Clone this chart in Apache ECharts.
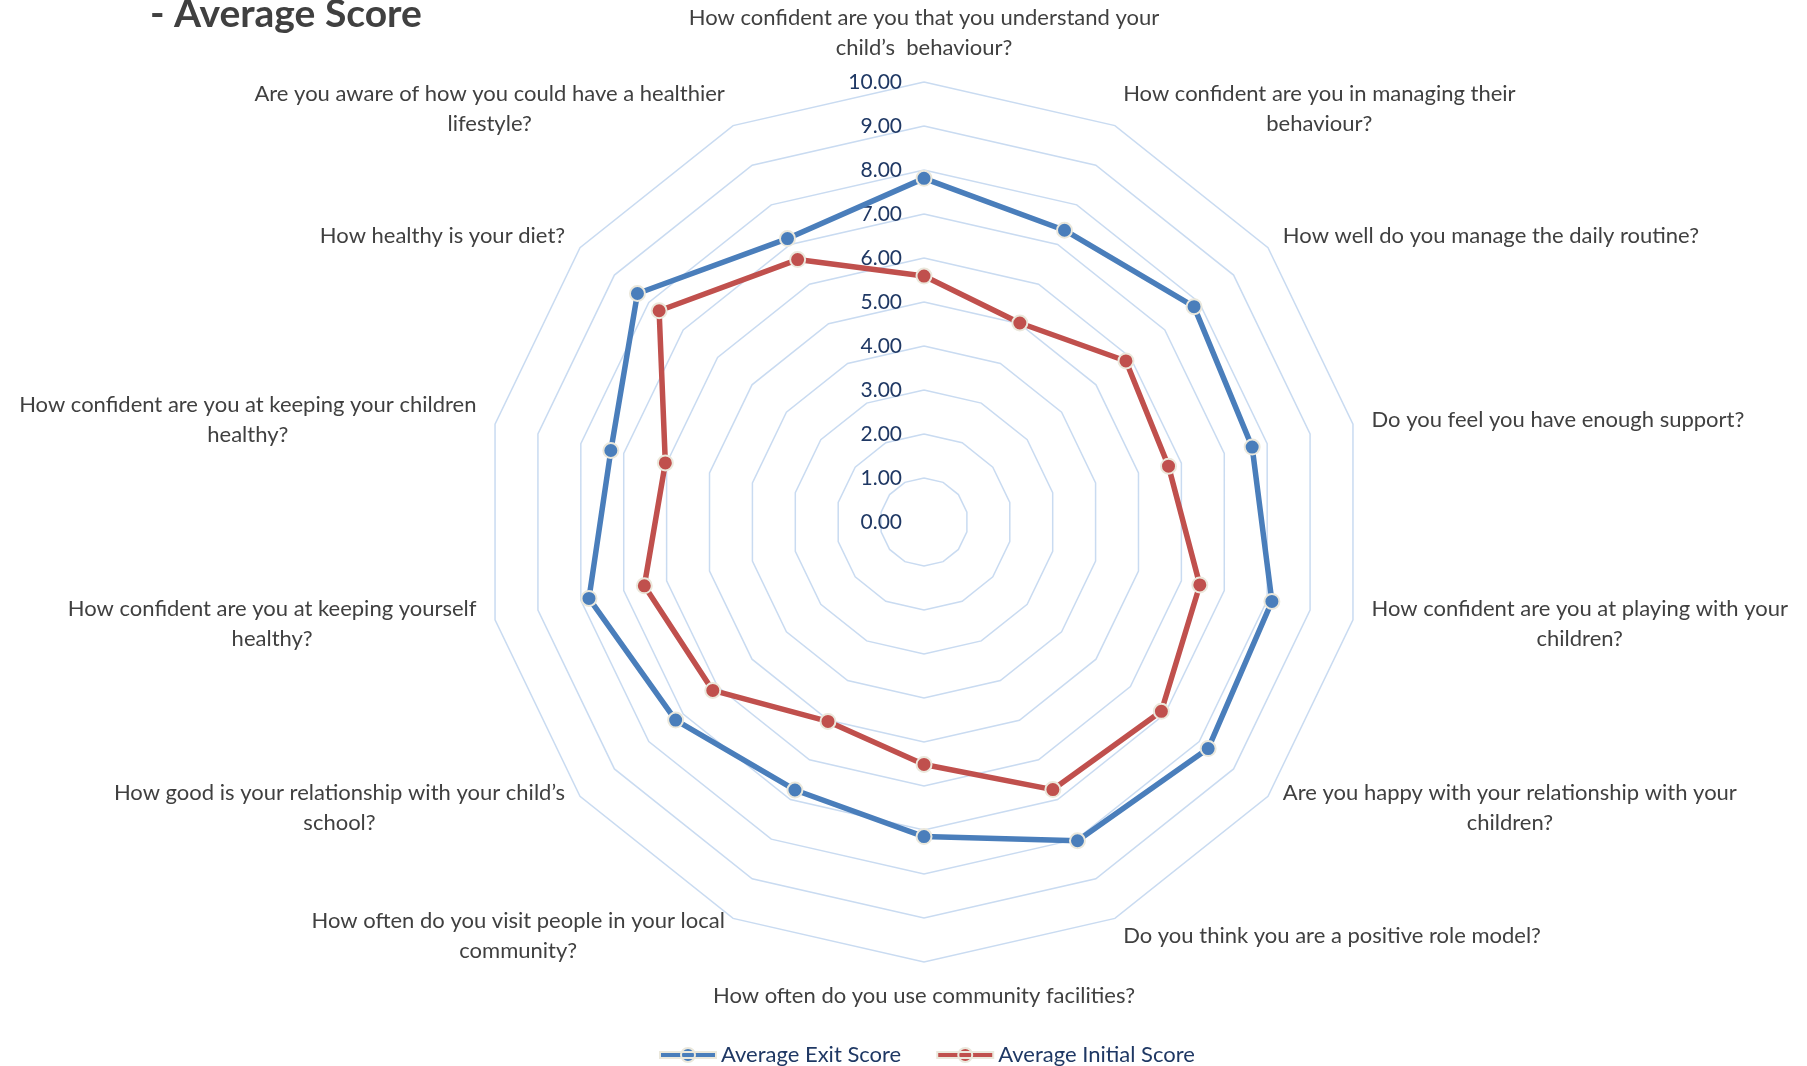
<!DOCTYPE html>
<html>
<head>
<meta charset="utf-8">
<script src="https://cdn.jsdelivr.net/npm/echarts@6/dist/echarts.min.js"></script>
<style>
  html, body { margin: 0; padding: 0; background: #ffffff; }
  #chart { width: 1807px; height: 1066px; }
</style>
</head>
<body>
<div id="chart"></div>
<script>
// Survey questions, listed clockwise starting from the top of the web
const questions = [
  'How confident are you that you understand your\nchild\u2019s  behaviour?',
  'How confident are you in managing their\nbehaviour?',
  'How well do you manage the daily routine?',
  'Do you feel you have enough support?',
  'How confident are you at playing with your\nchildren?',
  'Are you happy with your relationship with your\nchildren?',
  'Do you think you are a positive role model?',
  'How often do you use community facilities?',
  'How often do you visit people in your local\ncommunity?',
  'How good is your relationship with your child\u2019s\nschool?',
  'How confident are you at keeping yourself\nhealthy?',
  'How confident are you at keeping your children\nhealthy?',
  'How healthy is your diet?',
  'Are you aware of how you could have a healthier\nlifestyle?'
];

const exitScores    = [7.81, 7.36, 7.85, 7.65, 8.11, 8.26, 8.04, 7.15, 6.76, 7.22, 7.81, 7.30, 8.33, 7.15];
const initialScores = [5.59, 5.02, 5.87, 5.70, 6.43, 6.90, 6.75, 5.51, 5.03, 6.14, 6.52, 6.03, 7.70, 6.62];

const seriesNames = ['Average Exit Score', 'Average Initial Score'];
const scoreMin = 0;
const scoreMax = 10;

const exitColor = '#4a7ebb';
const initialColor = '#c0504d';
const navy = '#1f3864';
const grey = '#404040';
const FONT = 'Lato';

// ECharts lays indicators out counter-clockwise, so walk the list backwards after the first one
const n = questions.length;
const order = questions.map((_, i) => (n - i) % n);
const reorder = arr => order.map(i => arr[i]);

const indicators = reorder(questions).map((q, i) => {
  const ind = { name: q, min: scoreMin, max: scoreMax };
  if (i === 0) {
    ind.axisLabel = {
      show: true,
      color: navy,
      fontFamily: FONT,
      fontSize: 21,
      margin: 22,
      padding: [4, 0, 0, 0],
      formatter: v => Number(v).toFixed(2)
    };
  }
  return ind;
});

// legend marker: a thick line with a dot in the middle
const lineDotIcon = 'path://M0,4 L56,4 L56,10 L0,10 Z M35,7 A7,7 0 1,1 21,7 A7,7 0 1,1 35,7 Z';

const chart = echarts.init(document.getElementById('chart'), null, { renderer: 'canvas' });

chart.setOption({
  animation: false,
  backgroundColor: '#ffffff',
  title: {
    text: '- Average Score',
    left: 145,
    top: -10,
    textStyle: { fontFamily: FONT, fontSize: 39, fontWeight: 'bold', color: grey }
  },
  legend: {
    data: [
      { name: seriesNames[0], icon: lineDotIcon },
      { name: seriesNames[1], icon: lineDotIcon }
    ],
    left: 654,
    top: 1039,
    itemWidth: 56,
    itemHeight: 14,
    itemGap: 35,
    selectedMode: false,
    textStyle: { color: navy, fontFamily: FONT, fontSize: 22 }
  },
  radar: {
    center: [924, 522],
    radius: 440,
    startAngle: 90,
    splitNumber: 10,
    shape: 'polygon',
    nameGap: 19,
    axisName: {
      color: grey,
      fontFamily: FONT,
      fontSize: 22,
      lineHeight: 30,
      formatter: name => name.split('\n').map(l => '{c|' + l + '}').join('\n'),
      rich: {
        c: { align: 'center', color: grey, fontFamily: FONT, fontSize: 22, lineHeight: 30 }
      }
    },
    splitLine: { lineStyle: { color: '#c9dbf1', width: 1.5 } },
    splitArea: { show: false },
    axisLine: { show: false },
    axisTick: { show: false },
    axisLabel: { show: false },
    indicator: indicators
  },
  series: [{
    type: 'radar',
    symbol: 'circle',
    symbolSize: 15,
    data: [
      {
        name: seriesNames[0],
        value: reorder(exitScores),
        lineStyle: { color: exitColor, width: 5.5 },
        itemStyle: { color: exitColor, borderColor: '#ebe8dc', borderWidth: 2 }
      },
      {
        name: seriesNames[1],
        value: reorder(initialScores),
        lineStyle: { color: initialColor, width: 5.5 },
        itemStyle: { color: initialColor, borderColor: '#ebe8dc', borderWidth: 2 }
      }
    ]
  }]
});
</script>
</body>
</html>
